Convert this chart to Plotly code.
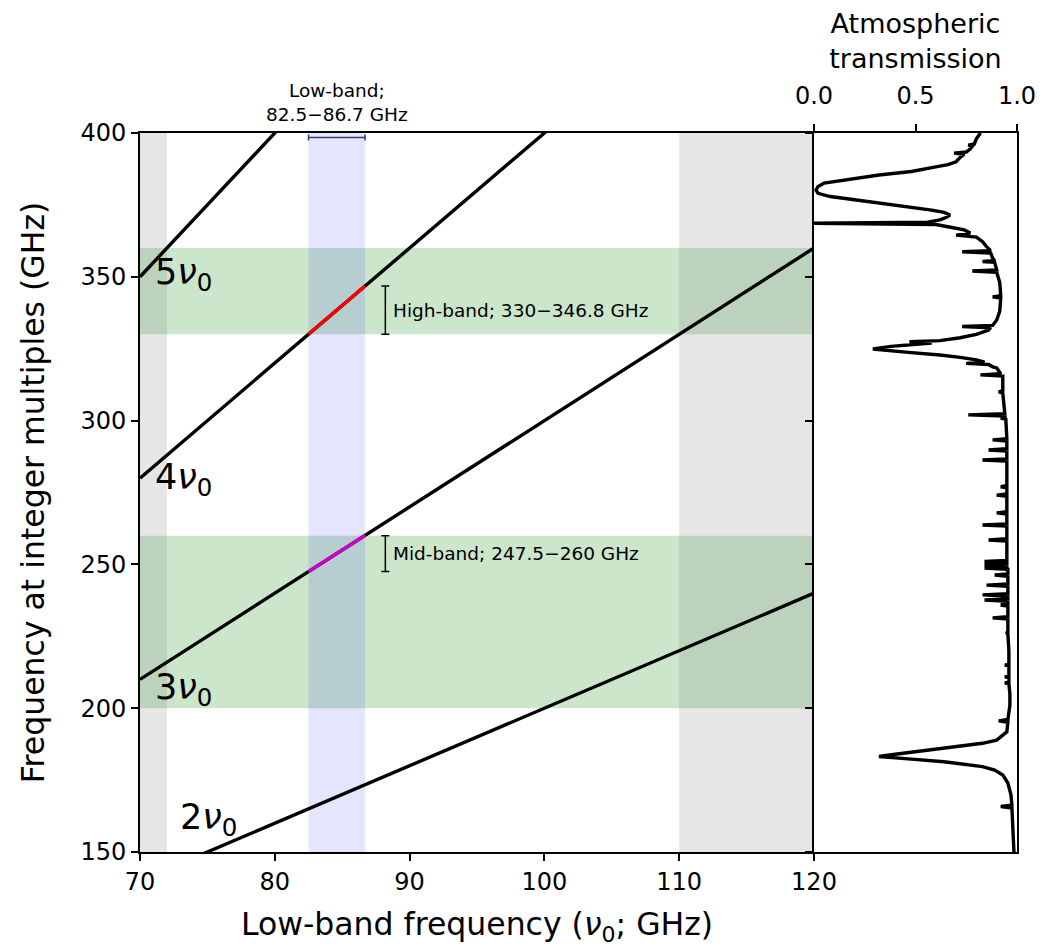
import plotly.graph_objects as go

# ---------------- data ----------------
harmonics = [2, 3, 4, 5]
x_range = [70, 120]
y_range = [150, 400]

low_band = [82.5, 86.7]
mid_band = [247.5, 260.0]
high_band = [330.0, 346.8]
green_bands = [[200, 260], [330, 360]]
gray_bands = [[70, 72], [110, 120]]

label_x = [73.0, 71.1, 71.1, 71.1]
label_y = [161.0, 206.3, 279.3, 350.6]

x_ticks = [70, 80, 90, 100, 110, 120]
y_ticks = [150, 200, 250, 300, 350, 400]
trans_ticks = [0.0, 0.5, 1.0]
trans_tick_labels = ["0.0", "0.5", "1.0"]

atm_freq = [150, 160, 165.3, 165.8, 166.3, 170, 174, 176.8, 178.5, 179.7, 180.6, 181.4,
            182.3, 183.2, 184.0, 184.9, 185.8, 186.6, 187.8, 188.9, 190.5, 191.8,
            195.1, 195.6, 196.1, 201, 205, 208.5, 208.8, 209.1, 210.6, 210.9, 211.2,
            214.7, 215.0, 215.3, 220, 226.0, 226.1, 226.4, 231.0, 231.4, 231.8,
            235.5, 235.9, 236.3, 237.2, 237.6, 238.0, 239.0, 239.4, 239.8,
            242.4, 242.8, 243.2, 245.9, 246.3, 246.7, 248.3, 248.7, 249.1, 249.4,
            249.8, 250.2, 250.6, 251.0, 251.4, 255, 258.1, 258.5, 258.9,
            263.3, 263.7, 264.1, 267.5, 267.9, 268.3, 273.7, 274.1, 274.5,
            276.6, 277.0, 277.4, 285.9, 286.3, 286.7, 289.4, 289.8, 290.2,
            292.9, 293.3, 293.7, 300.5, 300.9, 301.3, 301.6, 302.0, 302.4,
            306, 309.6, 310.0, 310.4, 314, 315.5, 315.9, 316.3, 318.3, 318.7,
            319.5, 319.9, 320.3, 321.1, 322.0, 322.8, 323.8, 324.9, 325.8, 326.6,
            327.0, 327.4, 327.8, 328.8, 330.0, 331.5, 332.3, 332.7, 333.1, 335,
            338, 342.6, 343.0, 343.4, 348, 351.6, 352.0, 352.4, 355.0, 355.3, 355.6,
            356.5, 358.3, 358.7, 359.1, 360.5, 362.2, 363.8, 364.5, 365.2, 366.3,
            367.4, 368.2, 368.6, 369.0, 369.8, 370.6, 371.5, 372.4, 373.2, 374.4,
            375.6, 376.8, 377.9, 379.0, 380.2, 381.4, 382.6, 384.0, 385.4, 386.6,
            387.4, 387.8, 388.2, 389.0, 390.0, 391.5, 392.6, 393.0, 393.4, 394.5,
            395.4, 395.8, 396.2, 398, 400]
atm_trans = [0.985, 0.98, 0.975, 0.92, 0.975, 0.97, 0.955, 0.93, 0.89, 0.83, 0.74, 0.64,
             0.48, 0.32, 0.40, 0.50, 0.62, 0.72, 0.83, 0.90, 0.93, 0.95,
             0.955, 0.91, 0.955, 0.965, 0.965, 0.96, 0.94, 0.96, 0.96, 0.94, 0.96,
             0.96, 0.94, 0.96, 0.96, 0.955, 0.945, 0.955, 0.955, 0.88, 0.955,
             0.955, 0.92, 0.955, 0.955, 0.84, 0.955, 0.955, 0.83, 0.955,
             0.955, 0.85, 0.955, 0.955, 0.89, 0.955, 0.955, 0.84, 0.95, 0.95,
             0.84, 0.95, 0.95, 0.84, 0.95, 0.95, 0.95, 0.86, 0.95,
             0.95, 0.83, 0.95, 0.95, 0.90, 0.95, 0.95, 0.90, 0.95,
             0.95, 0.92, 0.95, 0.95, 0.83, 0.95, 0.95, 0.86, 0.95,
             0.95, 0.88, 0.95, 0.945, 0.92, 0.945, 0.94, 0.76, 0.94,
             0.935, 0.93, 0.91, 0.93, 0.93, 0.93, 0.82, 0.92, 0.90, 0.88,
             0.86, 0.75, 0.84, 0.80, 0.72, 0.62, 0.45, 0.29, 0.38, 0.52,
             0.58, 0.47, 0.62, 0.72, 0.80, 0.86, 0.87, 0.73, 0.88, 0.90,
             0.915, 0.92, 0.88, 0.92, 0.915, 0.90, 0.78, 0.90, 0.89, 0.83, 0.89,
             0.88, 0.87, 0.73, 0.87, 0.85, 0.83, 0.80, 0.70, 0.77, 0.74,
             0.66, 0.60, 0.0, 0.56, 0.62, 0.65, 0.67, 0.64, 0.58, 0.46,
             0.34, 0.20, 0.08, 0.02, 0.01, 0.02, 0.05, 0.18, 0.32, 0.48,
             0.55, 0.58, 0.60, 0.66, 0.70, 0.72, 0.74, 0.69, 0.75, 0.77,
             0.78, 0.76, 0.79, 0.80, 0.82]

# ---------------- figure ----------------
FONT = "DejaVu Sans"
OFF = 8                      # default page margin of the html body
W, H = 1056 - OFF, 947 - OFF
px_l, px_m, px_r = 140 - OFF, 814 - OFF, 1017 - OFF
py_t, py_b = 133 - OFF, 852 - OFF
split = (px_m - px_l) / (px_r - px_l)
LW = 3.4

fig = go.Figure()

# harmonic lines
for n in harmonics:
    fig.add_trace(go.Scatter(x=x_range, y=[n * v for v in x_range], mode="lines",
                             line=dict(color="black", width=LW), showlegend=False,
                             hoverinfo="skip"))

# low band mapped onto 4th and 3rd harmonics
fig.add_trace(go.Scatter(x=low_band, y=[4 * v for v in low_band], mode="lines",
                         line=dict(color="red", width=LW), showlegend=False))
fig.add_trace(go.Scatter(x=low_band, y=[3 * v for v in low_band], mode="lines",
                         line=dict(color="#cc00cc", width=LW), showlegend=False))

# error-bar style range markers
bar_x = 88.2
for band in [high_band, mid_band]:
    mid = (band[0] + band[1]) / 2
    half = (band[1] - band[0]) / 2
    fig.add_trace(go.Scatter(x=[bar_x], y=[mid], mode="markers",
                             marker=dict(size=1, color="rgba(0,0,0,0)"),
                             error_y=dict(type="data", array=[half], color="black",
                                          thickness=1.5, width=4),
                             showlegend=False))
lb_mid = (low_band[0] + low_band[1]) / 2
lb_half = (low_band[1] - low_band[0]) / 2
fig.add_trace(go.Scatter(x=[lb_mid], y=[398.4], mode="markers",
                         marker=dict(size=1, color="rgba(0,0,0,0)"),
                         error_x=dict(type="data", array=[lb_half], color="#3a3f5c",
                                      thickness=1.5, width=3),
                         showlegend=False, cliponaxis=False))

# atmospheric transmission
fig.add_trace(go.Scatter(x=atm_trans, y=atm_freq, mode="lines",
                         line=dict(color="black", width=LW), xaxis="x2", yaxis="y2",
                         showlegend=False))

# shaded bands
for y0, y1 in green_bands:
    fig.add_shape(type="rect", xref="x", yref="y", x0=x_range[0], x1=x_range[1],
                  y0=y0, y1=y1, fillcolor="rgba(0,128,0,0.2)", line=dict(width=0),
                  layer="below")
for x0, x1 in gray_bands:
    fig.add_shape(type="rect", xref="x", yref="y", x0=x0, x1=x1,
                  y0=y_range[0], y1=y_range[1], fillcolor="rgba(128,128,128,0.2)",
                  line=dict(width=0), layer="below")
fig.add_shape(type="rect", xref="x", yref="y", x0=low_band[0], x1=low_band[1],
              y0=y_range[0], y1=y_range[1], fillcolor="rgba(0,0,255,0.1)",
              line=dict(width=0), layer="below")

# annotations
for n, lx, ly in zip(harmonics, label_x, label_y):
    fig.add_annotation(x=lx, y=ly, xref="x", yref="y", text=f"{n}<i>ν</i><sub>0</sub>",
                       showarrow=False, xanchor="left", yanchor="middle", xshift=-2,
                       yshift=1, font=dict(family=FONT, size=35, color="black"))
fig.add_annotation(x=88.6, y=(high_band[0] + high_band[1]) / 2, xref="x", yref="y",
                   text="High-band; 330−346.8 GHz", showarrow=False, xanchor="left",
                   yanchor="middle", font=dict(family=FONT, size=18.5, color="black"))
fig.add_annotation(x=88.6, y=(mid_band[0] + mid_band[1]) / 2, xref="x", yref="y",
                   text="Mid-band; 247.5−260 GHz", showarrow=False, xanchor="left",
                   yanchor="middle", font=dict(family=FONT, size=18.5, color="black"))
fig.add_annotation(x=lb_mid, y=400, xref="x", yref="y",
                   text="Low-band;<br>82.5−86.7 GHz", showarrow=False, xanchor="center",
                   yanchor="bottom", yshift=6,
                   font=dict(family=FONT, size=18.5, color="black"))

axis_common = dict(showline=True, linecolor="black", linewidth=2,
                   ticks="outside", ticklen=7, tickwidth=2, tickcolor="black",
                   showgrid=False, zeroline=False, automargin=False,
                   tickfont=dict(family=FONT, size=24, color="black"))

fig.update_layout(
    width=W, height=H,
    margin=dict(l=px_l, r=W - px_r, t=py_t, b=H - py_b, autoexpand=False),
    paper_bgcolor="white", plot_bgcolor="rgba(0,0,0,0)",
    font=dict(family=FONT, color="black"),
    xaxis=dict(domain=[0, split], range=x_range, tickvals=x_ticks, anchor="y",
               mirror=True,
               title=dict(text="Low-band frequency (<i>ν</i><sub>0</sub>; GHz)",
                          font=dict(family=FONT, size=31.5), standoff=27),
               **axis_common),
    yaxis=dict(domain=[0, 1], range=y_range, tickvals=y_ticks, anchor="x",
               mirror=False,
               title=dict(text="Frequency at integer multiples (GHz)",
                          font=dict(family=FONT, size=31.5), standoff=26),
               **axis_common),
    xaxis2=dict(domain=[split, 1], range=[0, 1], side="top", anchor="y2",
                tickvals=trans_ticks, ticktext=trans_tick_labels, mirror=True,
                ticklabelstandoff=10,
                title=dict(text="Atmospheric<br>transmission",
                           font=dict(family=FONT, size=27), standoff=6),
                **axis_common),
    yaxis2=dict(domain=[0, 1], range=y_range, anchor="x2", mirror=True,
                tickvals=y_ticks, showticklabels=False, matches="y",
                **axis_common),
)

fig.write_html("out.html")
